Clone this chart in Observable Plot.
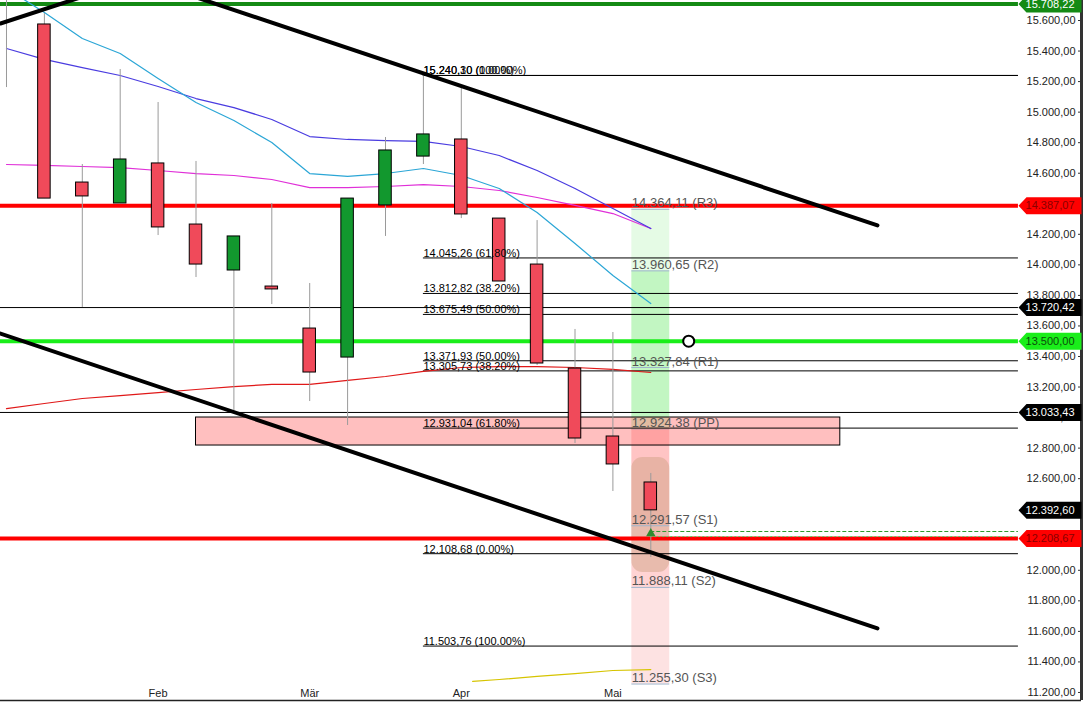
<!DOCTYPE html>
<html><head><meta charset="utf-8">
<script src="https://cdn.jsdelivr.net/npm/d3@7"></script>
<script src="https://cdn.jsdelivr.net/npm/@observablehq/plot@0.6"></script>
<style>html,body{margin:0;padding:0;background:#fff;overflow:hidden}</style>
</head><body><div id="chart"></div>
<script>
// ---- data ----
const weekIdx = [0,1,2,3,4,5,6,7,8,9,10,11,12,13,14,15,16,17];
const open  = [15900,15574,14539,14402,14664,14264,13963,13858,13583,13393,14389,14709,14821,14303,14002,13321,12876,12575];
const high  = [15960,15646,14657,15279,15063,14677,14186,14402,13878,14434,14834,15253,15161,14303,14290,13577,13557,12634];
const low   = [15161,14434,13721,14402,14192,13917,13046,13740,13105,12948,14186,14657,14303,13891,13341,12830,12516,12084];
const close = [15760,14434,14448,14690,14245,14002,14186,13839,13295,14434,14749,14854,14330,13891,13354,12863,12693,12392.60];

const maCyan    = [15810,15652,15482,15384,15220,15063,14945,14801,14598,14579,14598,14631,14585,14500,14343,14140,13930,13747];
const maBlue    = [15417,15345,15292,15240,15168,15089,15030,14952,14840,14821,14814,14808,14775,14716,14618,14500,14369,14238];
const maMagenta = [14657,14651,14644,14637,14618,14598,14585,14559,14506,14506,14513,14526,14513,14487,14441,14389,14336,14238];
const maRed     = [13059,13092,13125,13144,13164,13184,13203,13217,13217,13243,13269,13302,13328,13334,13334,13328,13315,13295];
const maYellowIdx = [12.3,13,14,15,16,17];
const maYellow    = [11272,11285,11305,11324,11344,11350];

const monthIdx   = [4,8,12,16];
const monthNames = ["Feb","Mär","Apr","Mai"];

const yTicks = d3.range(11200, 15601, 200);

const levelValues  = [15708.22, 14387.07, 13500.00, 12208.67, 13720.42, 13033.43];
const levelColors  = ["#148a14","#ff0000","#1aee1a","#ff0000","#000000","#000000"];
const levelWidths  = [4,4,4,4,1,1];

const tagValues = [15708.22, 14387.07, 13720.42, 13500.00, 13033.43, 12392.60, 12208.67];
const tagBg     = ["#148a14","#ff0000","#000000","#1aee1a","#000000","#000000","#ff0000"];
const tagFg     = ["#ffffff","#8a0000","#ffffff","#0b4d0b","#ffffff","#ffffff","#8a0000"];

const fibValues = [15240.30, 15240.10, 14045.26, 13812.82, 13675.49, 13371.93, 13305.73, 12931.04, 12108.68, 11503.76];
const fibPct    = ["100.00%","0.00%","61.80%","38.20%","50.00%","50.00%","38.20%","61.80%","0.00%","100.00%"];
const fibStart  = 11;
const lineEnd   = 26.7;

const pivotValues = [14364.11, 13960.65, 13327.84, 12924.38, 12291.57, 11888.11, 11255.30];
const pivotNames  = ["R3","R2","R1","PP","S1","S2","S3"];
const pivotZoneColors = ["#e5fbe5","#c2f6c2","#c2f6c2","#ffc4c4","#ffd3d3","#fde2e2"];
const pivotCol = [16.5, 17.5];

const zoneX = [5, 22];           // pink support box
const zoneY = [13000.4, 12817];
const roundZone = [12738, 11986];

const trendA = {i:[-0.16, 2.0],   v:[15580, 15755]};
const trendB = {i:[5.0, 22.98],   v:[15752, 14258]};
const trendC = {i:[-0.16, 22.98], v:[13550, 11619]};

const markerIdx = 18, markerVal = 13500;
const signalIdx = 17, signalVal = 12241;
const dashVals = [12254, 12221];

// ---- helpers ----
function fmtDE(v){ const [a,b] = v.toFixed(2).split("."); return a.replace(/\B(?=(\d{3})+(?!\d))/g,".") + "," + b; }
const candles = weekIdx.map((i,k)=>({i, open:open[k], high:high[k], low:low[k], close:close[k]}));
const series = (arr, idx) => arr.map((v,k)=>({i: idx ? idx[k] : weekIdx[k], v}));
const levels = levelValues.map((v,k)=>({v, c:levelColors[k], w:levelWidths[k]}));
const tags = tagValues.map((v,k)=>({v, bg:tagBg[k], fg:tagFg[k]}));
const fibs = fibValues.map((v,k)=>({v, label: fmtDE(v)+" ("+fibPct[k]+")"}));
const pivots = pivotValues.map((v,k)=>({v, label: fmtDE(v)+" ("+pivotNames[k]+")"}));
const pivotZones = pivotZoneColors.map((c,k)=>({y1:pivotValues[k], y2:pivotValues[k+1], c}));
const line2 = t => t.i.map((i,k)=>({i, v:t.v[k]}));
const tagSymbol = { draw(ctx){ ctx.moveTo(-63,0); ctx.lineTo(-55,-8.5); ctx.lineTo(0,-8.5); ctx.lineTo(0,8.5); ctx.lineTo(-55,8.5); ctx.closePath(); } };

const xDomain = [-0.1583, 28.364];
const yDomain = [11147.4, 15731];
const red = "#f04a5a", green = "#12982e";

const chart = Plot.plot({
  width: 1084, height: 706,
  marginTop: 0, marginBottom: 6, marginLeft: 0, marginRight: 3,
  x: {domain: xDomain, axis: null},
  y: {domain: yDomain, axis: null},
  style: {fontFamily: "'Liberation Sans', Arial, sans-serif", background: "#fff", overflow: "visible"},
  marks: [
    // pivot column
    Plot.rect(pivotZones, {x1: pivotCol[0], x2: pivotCol[1], y1: "y1", y2: "y2", fill: "c"}),
    Plot.rect([roundZone], {x1: pivotCol[0], x2: pivotCol[1], y1: d=>d[0], y2: d=>d[1], fill: "#c89a7a", fillOpacity: 0.42, rx: 11}),
    Plot.ruleY(pivotValues, {x1: pivotCol[0], x2: pivotCol[1], stroke: "#9fb4cc", strokeWidth: 1}),
    // support zone
    Plot.rect([0], {x1: zoneX[0], x2: zoneX[1], y1: zoneY[0], y2: zoneY[1], fill: "#ff8080", fillOpacity: 0.5, stroke: "#000", strokeWidth: 1}),
    // fib lines
    Plot.ruleY(fibs, {y: "v", x1: fibStart, x2: lineEnd, stroke: "#000", strokeWidth: 1}),
    // horizontal levels
    Plot.ruleY(levels, {y: "v", x1: xDomain[0], x2: lineEnd, stroke: "c", strokeWidth: "w"}),
    // green dashed
    Plot.ruleY([dashVals[0]], {x1: signalIdx, x2: lineEnd, stroke: "#2f9a2f", strokeDasharray: "4,2"}),
    Plot.ruleY([dashVals[1]], {x1: signalIdx, x2: lineEnd, stroke: "#66cc66", strokeDasharray: "2,2"}),
    // moving averages
    Plot.line(series(maRed), {x: "i", y: "v", stroke: "#e01818", strokeWidth: 1.2, clip: true}),
    Plot.line(series(maMagenta), {x: "i", y: "v", stroke: "#e030d8", strokeWidth: 1.2, clip: true}),
    Plot.line(series(maBlue), {x: "i", y: "v", stroke: "#4a3ce0", strokeWidth: 1.2, clip: true}),
    Plot.line(series(maCyan), {x: "i", y: "v", stroke: "#2ba6d6", strokeWidth: 1.2, clip: true}),
    Plot.line(series(maYellow, maYellowIdx), {x: "i", y: "v", stroke: "#d6c400", strokeWidth: 1.2}),
    // candles
    Plot.ruleX(candles, {x: "i", y1: "low", y2: "high", stroke: "#9a9a9a", clip: true}),
    Plot.rect(candles, {x1: d=>d.i-0.165, x2: d=>d.i+0.165, y1: "open", y2: "close",
      fill: d=> d.close >= d.open ? green : red, stroke: "#000", strokeWidth: 1, clip: true}),
    // trend lines
    Plot.line(line2(trendA), {x: "i", y: "v", stroke: "#000", strokeWidth: 4, clip: true}),
    Plot.line(line2(trendB), {x: "i", y: "v", stroke: "#000", strokeWidth: 4, clip: true}),
    Plot.line(line2(trendC), {x: "i", y: "v", stroke: "#000", strokeWidth: 4, clip: true}),
    // signal markers
    Plot.dot([0], {x: signalIdx, y: signalVal, symbol: "triangle", r: 3.5, fill: "#2e8b2e"}),
    Plot.dot([0], {x: markerIdx, y: markerVal, r: 5.5, fill: "#fff", stroke: "#000", strokeWidth: 2}),
    // labels
    Plot.text(fibs, {x: fibStart, y: "v", text: "label", textAnchor: "start", lineAnchor: "bottom", dy: -1, fontSize: 11, fill: "#000"}),
    Plot.text(pivots, {x: pivotCol[0], y: "v", text: "label", textAnchor: "start", lineAnchor: "bottom", dy: -2, fontSize: 13, fill: "#555"}),
    // x axis
    Plot.ruleY([yDomain[0]], {stroke: "#222", strokeWidth: 1.5}),
    Plot.text(monthIdx, {x: d=>d, text: (d,k)=>monthNames[k], frameAnchor: "bottom", lineAnchor: "bottom", dy: -4, fontSize: 11, fill: "#222"}),
    // y axis
    Plot.axisY(yTicks, {anchor: "right", tickSize: 4, dx: -4, tickPadding: -6, textAnchor: "end", tickFormat: fmtDE, fontSize: 11, fill: "#222", stroke: "#333"}),
    Plot.ruleX([xDomain[1]], {stroke: "#333", strokeWidth: 3}),
    // tags
    Plot.dot(tags, {y: "v", frameAnchor: "right", symbol: tagSymbol, r: 8, fill: "bg", stroke: null}),
    Plot.text(tags, {y: "v", frameAnchor: "right", text: d=>fmtDE(d.v), textAnchor: "end", dx: -7, fontSize: 11, fill: "fg"})
  ]
});
document.getElementById("chart").appendChild(chart);
</script></body></html>
